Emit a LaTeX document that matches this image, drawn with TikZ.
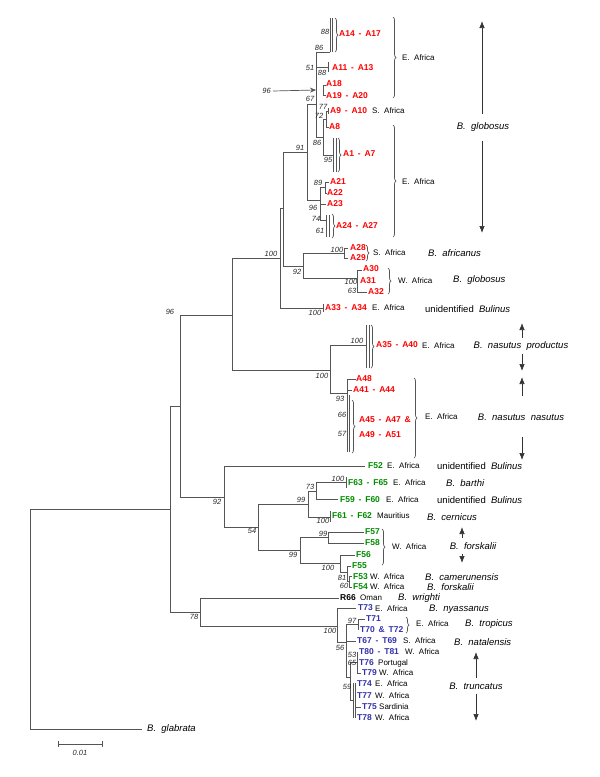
\documentclass[tikz,border=0pt]{standalone}
\usepackage{fontspec}
\setmainfont{Liberation Sans}
\usetikzlibrary{arrows.meta,decorations.pathreplacing}
\definecolor{treegray}{RGB}{85,85,85}
\definecolor{labred}{RGB}{255,0,0}
\definecolor{labgreen}{RGB}{0,140,0}
\definecolor{labblue}{RGB}{51,51,170}
\definecolor{bsgray}{RGB}{40,40,40}
\newcommand\dsh{\hspace{0.45em}-\hspace{0.45em}}
\newcommand\tamp{\hspace{0.45em}\&\hspace{0.45em}}
\tikzset{
 br/.style={draw=treegray, line width=0.8pt},
 lab/.style={anchor=west, inner sep=0pt, font=\fontsize{8.5}{9}\selectfont\bfseries},
 aR/.style={lab, text=labred},
 fG/.style={lab, text=labgreen},
 tB/.style={lab, text=labblue},
 rK/.style={lab, text=black},
 reg/.style={anchor=west, inner sep=0pt, font=\fontsize{8}{9}\selectfont},
 sp/.style={anchor=west, inner sep=0pt, font=\fontsize{9.5}{10}\selectfont\itshape},
 spc/.style={sp, anchor=center},
 bs/.style={inner sep=0pt, font=\fontsize{7.5}{8}\selectfont\itshape, text=bsgray},
 brc/.style={draw=treegray, line width=0.7pt, decorate, decoration={brace, amplitude=3pt}},
 arr/.style={draw=black!80, line width=0.7pt, -{Latex[length=7pt,width=5.5pt]}},
}
\begin{document}
\begin{tikzpicture}[x=1pt,y=-1pt]
\useasboundingbox (0,0) rectangle (600,777);
\fill[white] (0,0) rectangle (600,777);

% ---------- branches: backbone
\draw[br] (142,729) -- (30,729) -- (30,509) -- (170,509);
\draw[br] (180,406) -- (170,406) -- (170,612) -- (200,612);
\draw[br] (232,315) -- (180,315) -- (180,497) -- (224,497);
\draw[br] (280,258) -- (232,258) -- (232,370) -- (330,370);
\draw[br] (283,208) -- (280,208) -- (280,308) -- (323,308);
\draw[br] (323,304) -- (323,312);
\draw[br] (307,152) -- (283,152) -- (283,266) -- (303,266);
\draw[br] (344,253) -- (303,253) -- (303,278) -- (357,278);
\draw[br] (348,248) -- (344,248) -- (344,258) -- (348,258);
\draw[br] (362,270) -- (357,270) -- (357,292) -- (367,292);
% globosus E. Africa
\draw[br] (316,104) -- (307,104) -- (307,200) -- (320,200);
\draw[br] (330,52) -- (316,52) -- (316,137) -- (323,137);
\draw[br] (330,18) -- (330,52);
\draw[br] (332,18) -- (332,52);
\draw[br] (316,67) -- (328,67);
\draw[br] (328,62) -- (328,72);
\draw[br] (326,85) -- (323,85) -- (323,95) -- (326,95);
\draw[br] (326,119) -- (323,119) -- (323,155) -- (333,155);
\draw[br] (328,111) -- (326,111) -- (326,127) -- (329,127);
\draw[br] (328,108) -- (328,114);
\draw[br] (333,138) -- (333,172);
\draw[br] (336,138) -- (336,172);
\draw[br] (325,187) -- (320,187) -- (320,220) -- (326,220);
\draw[br] (329,182) -- (325,182) -- (325,193) -- (327,193);
\draw[br] (320,204) -- (326,204);
\draw[br] (326,215) -- (326,237);
\draw[br] (329,215) -- (329,237);
% nasutus
\draw[br] (366,345) -- (330,345) -- (330,393) -- (347,393);
\draw[br] (366,325) -- (366,368);
\draw[br] (369,325) -- (369,368);
\draw[br] (356,379) -- (347,379) -- (347,452);
\draw[br] (347,390) -- (352,390);
\draw[br] (349,395) -- (349,452);
% F clade
\draw[br] (365,466) -- (224,466) -- (224,527) -- (258,527);
\draw[br] (308,504) -- (258,504) -- (258,550) -- (300,550);
\draw[br] (316,491) -- (308,491) -- (308,517) -- (330,517);
\draw[br] (330,511) -- (330,522);
\draw[br] (346,482) -- (316,482) -- (316,499) -- (338,499);
\draw[br] (346,477) -- (346,488);
\draw[br] (328,537) -- (300,537) -- (300,563) -- (340,563);
\draw[br] (364,532) -- (328,532) -- (328,543) -- (364,543);
\draw[br] (355,555) -- (340,555) -- (340,572) -- (347,572);
\draw[br] (351,566) -- (347,566) -- (347,581) -- (349,581);
\draw[br] (352,576) -- (349,576) -- (349,587) -- (352,587);
% R / T clade
\draw[br] (339,598) -- (200,598) -- (200,626) -- (337,626);
\draw[br] (356,608) -- (337,608) -- (337,642) -- (346,642);
\draw[br] (358,624) -- (346,624) -- (346,677) -- (350,677);
\draw[br] (346,641) -- (356,641);
\draw[br] (365,619) -- (358,619) -- (358,630);
\draw[br] (357,662) -- (350,662) -- (350,700) -- (353,700);
\draw[br] (357,652) -- (357,673) -- (361,673);
\draw[br] (353,683) -- (353,718);
\draw[br] (355,683) -- (355,718);
\draw[br] (355,707) -- (361,707);

% ---------- braces
\draw[brc] (335,18) -- (335,52);
\draw[brc] (338,138) -- (338,172);
\draw[brc] (332,214) -- (332,238);
\draw[brc] (393,17) -- (393,98);
\draw[brc] (393,125) -- (393,237);
\draw[brc] (366,245) -- (366,261);
\draw[brc] (388,268) -- (388,294);
\draw[brc] (371,325) -- (371,368);
\draw[brc] (352,400) -- (352,453);
\draw[brc] (414,378) -- (414,458);
\draw[brc] (382,529) -- (382,565);
\draw[brc] (406,617) -- (406,633);

% ---------- arrow at node 96
\node[bs, anchor=east] (b96a) at (271,91) {96};
\coordinate (n96) at (316,90);
\draw[draw=treegray, line width=0.7pt, -{Stealth[length=6pt,width=5pt]}] (b96a.east) ++(2pt,0) -- (n96);

% ---------- bootstrap values
\node[bs] (b1) at (325,32) {88};
\node[bs] (b2) at (319,48) {86};
\node[bs] (b3) at (310,68) {51};
\node[bs] (b4) at (322,73) {88};
\node[bs] (b5) at (310,99) {67};
\node[bs] (b6) at (323,107) {77};
\node[bs] (b7) at (319,116) {72};
\node[bs] (b8) at (317,143) {86};
\node[bs] (b9) at (328,160) {95};
\node[bs] (b10) at (300,148) {91};
\node[bs] (b11) at (318,183) {89};
\node[bs] (b12) at (313,208) {96};
\node[bs] (b13) at (316,219) {74};
\node[bs] (b14) at (320,231) {61};
\node[bs] (b15) at (271,254) {100};
\node[bs] (b16) at (337,250) {100};
\node[bs] (b17) at (297,272) {92};
\node[bs] (b18) at (351,282) {100};
\node[bs] (b19) at (352,291) {63};
\node[bs] (b20) at (315,313) {100};
\node[bs] (b21) at (170,312) {96};
\node[bs] (b22) at (357,341) {100};
\node[bs] (b23) at (322,376) {100};
\node[bs] (b24) at (340,399) {93};
\node[bs] (b25) at (342,415) {66};
\node[bs] (b26) at (342,434) {57};
\node[bs] (b27) at (217,502) {92};
\node[bs] (b28) at (338,479) {100};
\node[bs] (b29) at (310,487) {73};
\node[bs] (b30) at (301,500) {99};
\node[bs] (b31) at (323,521) {100};
\node[bs] (b32) at (252,531) {54};
\node[bs] (b33) at (323,534) {99};
\node[bs] (b34) at (293,555) {99};
\node[bs] (b35) at (328,568) {100};
\node[bs] (b36) at (342,578) {81};
\node[bs] (b37) at (344,586) {60};
\node[bs] (b38) at (194,617) {78};
\node[bs] (b39) at (330,631) {100};
\node[bs] (b40) at (352,621) {97};
\node[bs] (b41) at (340,648) {56};
\node[bs] (b42) at (352,655) {53};
\node[bs] (b43) at (352,663) {65};
\node[bs] (b44) at (347,687) {59};

% ---------- taxon labels
\node[aR] (a14) at (339,34) {A14\dsh A17};
\node[aR] (a11) at (332,68) {A11\dsh A13};
\node[aR] (a18) at (326,84) {A18};
\node[aR] (a19) at (326,96) {A19\dsh A20};
\node[aR] (a9) at (330,111) {A9\dsh A10};
\node[aR] (a8) at (329,127) {A8};
\node[aR] (a1) at (343,154) {A1\dsh A7};
\node[aR] (a21) at (330,182) {A21};
\node[aR] (a22) at (327,193) {A22};
\node[aR] (a23) at (327,204) {A23};
\node[aR] (a24) at (336,226) {A24\dsh A27};
\node[aR] (a28) at (350,248) {A28};
\node[aR] (a29) at (350,258) {A29};
\node[aR] (a30) at (363,269) {A30};
\node[aR] (a31) at (360,281) {A31};
\node[aR] (a32) at (368,292) {A32};
\node[aR] (a33) at (325,308) {A33\dsh A34};
\node[aR] (a35) at (376,345) {A35\dsh A40};
\node[aR] (a48) at (356,379) {A48};
\node[aR] (a41) at (353,390) {A41\dsh A44};
\node[aR] (a45) at (359,420) {A45\dsh A47\tamp};
\node[aR] (a49) at (359,435) {A49\dsh A51};
\node[fG] (f52) at (368,466) {F52};
\node[fG] (f63) at (348,483) {F63\dsh F65};
\node[fG] (f59) at (340,500) {F59\dsh F60};
\node[fG] (f61) at (332,516) {F61\dsh F62};
\node[fG] (f57) at (365,532) {F57};
\node[fG] (f58) at (365,543) {F58};
\node[fG] (f56) at (356,555) {F56};
\node[fG] (f55) at (352,566) {F55};
\node[fG] (f53) at (353,577) {F53};
\node[fG] (f54) at (353,587) {F54};
\node[rK] (r66) at (340,598) {R66};
\node[tB] (t73) at (358,608) {T73};
\node[tB] (t71) at (366,619) {T71};
\node[tB] (t70) at (360,630) {T70\tamp T72};
\node[tB] (t67) at (357,641) {T67\dsh T69};
\node[tB] (t80) at (359,652) {T80\dsh T81};
\node[tB] (t76) at (359,663) {T76};
\node[tB] (t79) at (362,673) {T79};
\node[tB] (t74) at (357,684) {T74};
\node[tB] (t77) at (357,696) {T77};
\node[tB] (t75) at (362,707) {T75};
\node[tB] (t78) at (357,718) {T78};

% ---------- region labels
\node[reg] (r1) at (402,58) {E.~~Africa};
\node[reg] (r2) at (372,111) {S.~~Africa};
\node[reg] (r3) at (402,182) {E.~~Africa};
\node[reg] (r4) at (373,253) {S.~~Africa};
\node[reg] (r5) at (398,281) {W.~~Africa};
\node[reg] (r6) at (372,308) {E.~~Africa};
\node[reg] (r7) at (422,346) {E.~~Africa};
\node[reg] (r8) at (425,417) {E.~~Africa};
\node[reg] (r9) at (387,466) {E.~~Africa};
\node[reg] (r10) at (393,483) {E.~~Africa};
\node[reg] (r11) at (386,500) {E.~~Africa};
\node[reg] (r12) at (377,516) {Mauritius};
\node[reg] (r13) at (392,547) {W.~~Africa};
\node[reg] (r14) at (370,577) {W.~~Africa};
\node[reg] (r15) at (370,587) {W.~~Africa};
\node[reg] (r16) at (360,598) {Oman};
\node[reg] (r17) at (375,609) {E.~~Africa};
\node[reg] (r18) at (416,624) {E.~~Africa};
\node[reg] (r19) at (403,641) {S.~~Africa};
\node[reg] (r20) at (405,652) {W.~~Africa};
\node[reg] (r21) at (378,663) {Portugal};
\node[reg] (r22) at (379,673) {W.~~Africa};
\node[reg] (r23) at (375,684) {E.~~Africa};
\node[reg] (r24) at (375,696) {W.~~Africa};
\node[reg] (r25) at (379,707) {Sardinia};
\node[reg] (r26) at (375,718) {W.~~Africa};

% ---------- species labels
\node[spc] (s1) at (483,127) {B.~~globosus};
\node[sp] (s2) at (428,253) {B.~~africanus};
\node[sp] (s3) at (453,280) {B.~~globosus};
\node[sp] (s4) at (425,309) {\upshape unidentified~~\itshape Bulinus};
\node[spc] (s5) at (521,346) {B.~~nasutus~~productus};
\node[spc] (s6) at (521,417) {B.~~nasutus~~nasutus};
\node[sp] (s7) at (437,466) {\upshape unidentified~~\itshape Bulinus};
\node[sp] (s8) at (446,483) {B.~~barthi};
\node[sp] (s9) at (437,500) {\upshape unidentified~~\itshape Bulinus};
\node[sp] (s10) at (427,517) {B.~~cernicus};
\node[spc] (s11) at (473,546) {B.~~forskalii};
\node[sp] (s12) at (425,577) {B.~~camerunensis};
\node[sp] (s13) at (427,587) {B.~~forskalii};
\node[sp] (s14) at (398,598) {B.~~wrighti};
\node[sp] (s15) at (429,609) {B.~~nyassanus};
\node[sp] (s16) at (465,624) {B.~~tropicus};
\node[sp] (s17) at (454,642) {B.~~natalensis};
\node[spc] (s18) at (476,686) {B.~~truncatus};
\node[sp] (s19) at (147,729) {B.~~glabrata};

% ---------- range arrows
\coordinate (g1t) at (482,21);  \coordinate (g1b) at (482,233);
\draw[arr] (482,114) -- (g1t);
\draw[arr] (482,141) -- (g1b);
\coordinate (npt) at (522,323); \coordinate (npb) at (522,371);
\draw[arr] (522,338) -- (npt);
\draw[arr] (522,354) -- (npb);
\coordinate (nnt) at (522,377); \coordinate (nnb) at (522,460);
\draw[arr] (522,396) -- (nnt);
\draw[arr] (522,437) -- (nnb);
\coordinate (fkt) at (462,527); \coordinate (fkb) at (462,563);
\draw[arr] (462,538) -- (fkt);
\draw[arr] (462,554) -- (fkb);
\coordinate (trt) at (476,652); \coordinate (trb) at (476,721);
\draw[arr] (476,678) -- (trt);
\draw[arr] (476,694) -- (trb);

% ---------- scale bar
\coordinate (sbl) at (58,744); \coordinate (sbr) at (102,744);
\draw[br] (sbl) -- (sbr);
\draw[br] (58,741) -- (58,747);
\draw[br] (102,741) -- (102,747);
\node[bs] (sbt) at (80,753) {0.01};
\end{tikzpicture}
\end{document}
